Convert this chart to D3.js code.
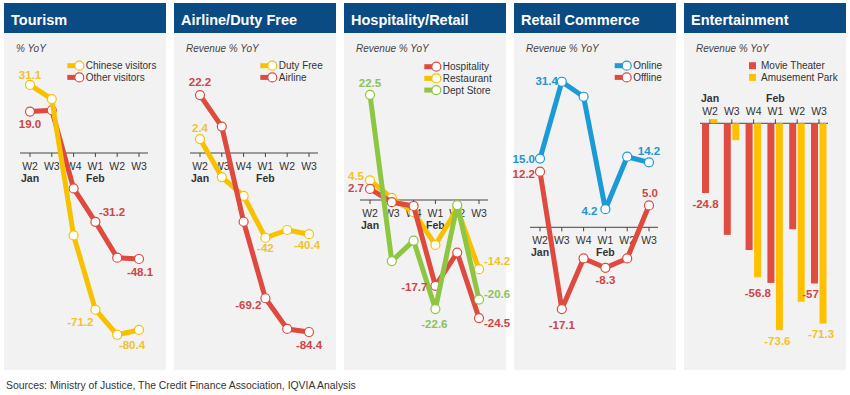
<!DOCTYPE html>
<html><head><meta charset="utf-8">
<script src="https://cdn.jsdelivr.net/npm/d3@7"></script>
<style>
html,body{margin:0;padding:0;background:#fff;}
svg{display:block;font-family:"Liberation Sans",Arial,sans-serif;}
</style></head>
<body>
<svg id="chart" width="850" height="395"></svg>
<script>
// ---------- data ----------
const weeks = ["W2","W3","W4","W1","W2","W3"];
const months = ["Jan","Feb"];
const monthAt = [0, 3];

const tourismChinese = [31.1, 24.7, -37.4, -71.2, -82.6, -80.4];
const tourismOther   = [19.0, 19.6, -16.0, -31.2, -47.5, -48.1];
const dutyFree = [2.4, -14.7, -23.2, -42, -38.5, -40.4];
const airline  = [22.2, 8.0, -34.8, -69.2, -83.0, -84.4];
const hospitality = [2.7, -0.1, -0.9, -17.7, -10.7, -24.5];
const restaurant  = [4.5, 0.8, -2.2, -9.1, -1.5, -14.2];
const deptStore   = [22.5, -12.5, -8.2, -22.6, -0.7, -20.6];
const online  = [15.0, 31.4, 28.2, 4.2, 15.4, 14.2];
const offline = [12.2, -17.1, -6.3, -8.3, -6.3, 5.0];
const movieTheater  = [-24.8, -39.7, -45.1, -56.8, -37.7, -57];
const amusementPark = [1.5, -6.0, -54.8, -73.6, -63.5, -71.3];

const titles = ["Tourism","Airline/Duty Free","Hospitality/Retail","Retail Commerce","Entertainment"];
const subtitles = ["% YoY","Revenue % YoY","Revenue % YoY","Revenue % YoY","Revenue % YoY"];
const sourceNote = "Sources: Ministry of Justice, The Credit Finance Association, IQVIA Analysis";

// ---------- styles ----------
const C = {
  yellow:"#f7c100", red:"#df4a3e", green:"#8dc641", blue:"#1b9ad6",
  yellowText:"#efc22e", redText:"#cf4545", greenText:"#8cc25a", blueText:"#1e96cf",
  header:"#0b4b83", panel:"#f2f2f2", axis:"#444", text:"#333"
};

const series = [
  [{name:"Chinese visitors", values:tourismChinese, color:C.yellow, tc:C.yellowText},
   {name:"Other visitors", values:tourismOther, color:C.red, tc:C.redText}],
  [{name:"Duty Free", values:dutyFree, color:C.yellow, tc:C.yellowText},
   {name:"Airline", values:airline, color:C.red, tc:C.redText}],
  [{name:"Hospitality", values:hospitality, color:C.red, tc:C.redText},
   {name:"Restaurant", values:restaurant, color:C.yellow, tc:C.yellowText},
   {name:"Dept Store", values:deptStore, color:C.green, tc:C.greenText}],
  [{name:"Online", values:online, color:C.blue, tc:C.blueText},
   {name:"Offline", values:offline, color:C.red, tc:C.redText}],
  [{name:"Movie Theater", values:movieTheater, color:"#e04c40", tc:C.redText},
   {name:"Amusement Park", values:amusementPark, color:"#ffc000", tc:C.yellowText}]
];
// draw order of line series (index into series)
const drawOrder = [[1,0],[0,1],[1,0,2],[0,1],[0,1]];

// layout per panel: zero pixel, px per unit, axis line pixel, legend x
const layout = [
  {zero:153.3, k:2.197, axisY:153,   legX:75.3},
  {zero:144.4, k:2.223, axisY:153,   legX:98.3},
  {zero:201.7, k:4.75,  axisY:200,   legX:92.3},
  {zero:228.9, k:4.687, axisY:227.3, legX:112.7},
  {zero:123.3, k:2.81,  axisY:123.3, legX:65}
];
// labels: [seriesIdx, pointIdx, dx, dy, anchor, decimals]
const labels = [
  [[0,0,0,-6,"middle",1],[1,0,0,16.5,"middle",1],[1,3,3.5,-6,"start",1],[1,5,1,17,"middle",1],[0,3,-2,16,"end",1],[0,5,-7,19,"middle",1]],
  [[1,0,0,-9,"middle",1],[0,0,0,-7,"middle",1],[0,3,0,14,"middle",0],[0,5,-2,15,"middle",1],[1,3,-4,11,"end",1],[1,5,0,17,"middle",1]],
  [[2,0,0,-8,"middle",1],[1,0,-6,0,"end",1],[0,0,-6,3,"end",1],[0,3,-8,5,"end",1],[2,3,-1,19,"middle",1],[1,5,5,-4,"start",1],[2,5,5,-2,"start",1],[0,5,5,9,"start",1]],
  [[0,1,-4,3.5,"end",1],[0,0,-5,4,"end",1],[1,0,-5,6,"end",1],[0,5,0,-7,"middle",1],[1,5,1,-8,"middle",1],[0,3,-8,6,"end",1],[1,3,0,16,"middle",1],[1,1,0,20,"middle",1]],
  [[0,0,0,15,"middle",1],[0,3,-13,14,"middle",1],[1,3,-2,15,"middle",1],[0,5,-4,14.5,"middle",0],[1,5,-2,14,"middle",1]]
];

const svg = d3.select("#chart");
const panelW = 162, panelStep = 170, headerTop = 3, headerH = 30, panelBottom = 370;

const x = d3.scalePoint().domain(d3.range(weeks.length)).range([26, 135]);

titles.forEach((title, p) => {
  const L = layout[p];
  const g = svg.append("g").attr("transform", `translate(${4 + p*panelStep},0)`);
  const y = d3.scaleLinear().domain([0, -100]).range([L.zero, L.zero + 100*L.k]);

  g.append("rect").attr("x",0).attr("y",headerTop).attr("width",panelW).attr("height",headerH).attr("fill",C.header);
  g.append("rect").attr("x",0).attr("y",headerTop+headerH).attr("width",panelW).attr("height",panelBottom-headerTop-headerH).attr("fill",C.panel);
  g.append("text").attr("x",7).attr("y",24.5).attr("fill","#fff").attr("font-size",14.5).attr("font-weight","bold").text(title);
  g.append("text").attr("x",12).attr("y",51.5).attr("fill","#444").attr("font-size",10).attr("font-style","italic").text(subtitles[p]);

  // axis
  const isBar = p === 4;
  const ax = g.append("g").attr("transform", `translate(0,${L.axisY})`);
  ax.append("line").attr("x1",16).attr("x2",144).attr("y1",0).attr("y2",0).attr("stroke",C.axis).attr("stroke-width",1);
  ax.selectAll("line.t").data(d3.range(weeks.length)).join("line").attr("class","t")
    .attr("x1",d=>x(d)).attr("x2",d=>x(d)).attr("y1",0).attr("y2",isBar?-4:4).attr("stroke",C.axis).attr("stroke-width",1);
  ax.selectAll("text.w").data(weeks).join("text").attr("class","w")
    .attr("x",(d,i)=>x(i)).attr("y",isBar?-8:17).attr("text-anchor","middle").attr("font-size",10.5).attr("fill",C.text).text(d=>d);
  ax.selectAll("text.m").data(months).join("text").attr("class","m")
    .attr("x",(d,i)=>x(monthAt[i])).attr("y",isBar?-21:29).attr("text-anchor","middle").attr("font-size",10.5).attr("font-weight","bold").attr("fill",C.text).text(d=>d);

  const S = series[p];
  // legend
  S.forEach((s, i) => {
    const ly = (p===2 ? 66.7 : 65.7) + i*11.7;
    if (isBar) {
      g.append("rect").attr("x",L.legX).attr("y",ly-3.5).attr("width",7).attr("height",7).attr("fill",s.color);
      g.append("text").attr("x",L.legX+12).attr("y",ly+3.5).attr("font-size",10).attr("fill",C.text).text(s.name);
    } else {
      g.append("line").attr("x1",L.legX-12).attr("x2",L.legX).attr("y1",ly).attr("y2",ly).attr("stroke",s.color).attr("stroke-width",5);
      g.append("circle").attr("cx",L.legX).attr("cy",ly).attr("r",4.5).attr("fill","#fff").attr("stroke",s.color).attr("stroke-width",1.2);
      g.append("text").attr("x",L.legX+6.5).attr("y",ly+3.5).attr("font-size",10).attr("fill",C.text).text(s.name);
    }
  });

  if (isBar) {
    S.forEach((s, si) => {
      g.selectAll(null).data(s.values).join("rect")
        .attr("x",(d,i)=>x(i) + (si===0 ? -8 : 0.5))
        .attr("width",7)
        .attr("y",d=>Math.min(y(d), y(0)))
        .attr("height",d=>Math.abs(y(d)-y(0)))
        .attr("fill",s.color);
    });
    labels[p].forEach(([si,i,dx,dy,anchor,dec]) => {
      const s = S[si], v = s.values[i];
      const cx = x(i) + (si===0 ? -4.5 : 4);
      g.append("text").attr("x",cx+dx).attr("y",y(v)+dy).attr("text-anchor",anchor)
        .attr("font-size",11.5).attr("font-weight","bold").attr("fill",s.tc).text(v.toFixed(dec));
    });
  } else {
    const line = d3.line().x((d,i)=>x(i)).y(d=>y(d));
    drawOrder[p].forEach(si => {
      const s = S[si];
      g.append("path").datum(s.values).attr("d",line).attr("fill","none").attr("stroke",s.color)
        .attr("stroke-width",5).attr("stroke-linejoin","round").attr("stroke-linecap","round");
      g.selectAll(null).data(s.values).join("circle").attr("cx",(d,i)=>x(i)).attr("cy",d=>y(d))
        .attr("r",4.5).attr("fill","#fff").attr("stroke",s.color).attr("stroke-width",1.2);
    });
    labels[p].forEach(([si,i,dx,dy,anchor,dec]) => {
      const s = S[si], v = s.values[i];
      g.append("text").attr("x",x(i)+dx).attr("y",y(v)+dy).attr("text-anchor",anchor)
        .attr("font-size",11.5).attr("font-weight","bold").attr("fill",s.tc).text(v.toFixed(dec));
    });
  }
});

svg.append("text").attr("x",6).attr("y",389).attr("font-size",10.4).attr("fill",C.text).text(sourceNote);
</script>
</body></html>
